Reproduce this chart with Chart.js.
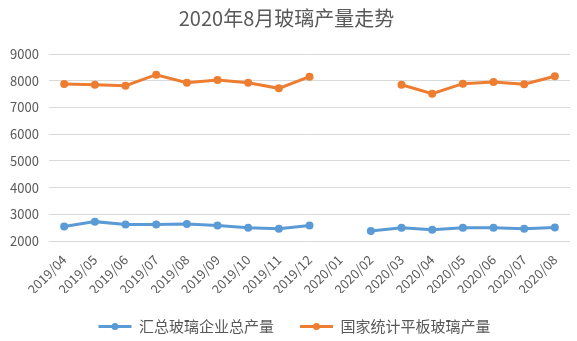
<!DOCTYPE html>
<html>
<head>
<meta charset="utf-8">
<script src="https://cdn.jsdelivr.net/npm/chart.js@4/dist/chart.umd.min.js"></script>
<style>
html,body{margin:0;padding:0;background:#fff;}
#wrap{width:577px;height:341px;position:relative;}
</style>
</head>
<body>
<div id="wrap"><canvas id="c" width="577" height="341"></canvas></div>
<script>
const categories = ["2019/04","2019/05","2019/06","2019/07","2019/08","2019/09","2019/10","2019/11","2019/12","2020/01","2020/02","2020/03","2020/04","2020/05","2020/06","2020/07","2020/08"];
const totalEnterprise = [2540,2725,2615,2615,2640,2580,2495,2455,2580,null,2370,2495,2420,2495,2495,2455,2505];
const nationalFlat = [7875,7850,7815,8225,7925,8025,7925,7715,8150,null,null,7850,7515,7890,7950,7865,8165];
const seriesNames = ["汇总玻璃企业总产量","国家统计平板玻璃产量"];
const titleText = "2020年8月玻璃产量走势";
const yMin = 2000, yMax = 9000, yStep = 1000;

const FONT = "'Noto Sans CJK SC','Noto Sans',sans-serif";
const TXT = "#595959";

const legendTweaks = {
  id: 'legendTweaks',
  afterLayout(chart) {
    const lg = chart.legend;
    if (lg) { lg.left += 8; lg.right += 8; }
  },
  afterDraw(chart) {
    const lg = chart.legend;
    if (!lg || !lg.legendHitBoxes) return;
    const ctx = chart.ctx;
    lg.legendHitBoxes.forEach((hb, i) => {
      const ds = chart.data.datasets[i];
      const bw = lg.options.labels.boxWidth;
      const cx = hb.left + bw / 2;
      const cy = hb.top + hb.height / 2;
      ctx.save();
      ctx.fillStyle = ds.borderColor;
      ctx.beginPath();
      ctx.arc(cx, cy, 3.5, 0, Math.PI * 2);
      ctx.fill();
      ctx.restore();
    });
  }
};

new Chart(document.getElementById('c'), {
  type: 'line',
  data: {
    labels: categories,
    datasets: [
      {label: seriesNames[0], data: totalEnterprise, borderColor: '#5B9BD5', backgroundColor: '#5B9BD5', borderWidth: 3, pointRadius: 4, pointBackgroundColor: '#5B9BD5', pointBorderWidth: 0, spanGaps: false, tension: 0},
      {label: seriesNames[1], data: nationalFlat, borderColor: '#ED7D31', backgroundColor: '#ED7D31', borderWidth: 3, pointRadius: 4, pointBackgroundColor: '#ED7D31', pointBorderWidth: 0, spanGaps: false, tension: 0}
    ]
  },
  plugins: [legendTweaks],
  options: {
    responsive: false,
    animation: false,
    devicePixelRatio: 1,
    layout: {padding: {left: 0, right: 4, top: 4, bottom: 0}},
    plugins: {
      title: {display: true, text: titleText, color: TXT, font: {family: FONT, size: 20, weight: 'normal'}, padding: {top: 2, bottom: 24}},
      legend: {
        position: 'bottom',
        maxHeight: 48,
        labels: {color: TXT, font: {family: FONT, size: 15}, boxWidth: 33, boxHeight: 3, padding: 26, generateLabels(chart) {
          return chart.data.datasets.map((ds, i) => ({text: ds.label, fillStyle: ds.borderColor, strokeStyle: ds.borderColor, lineWidth: 0, datasetIndex: i, fontColor: TXT}));
        }}
      },
      tooltip: {enabled: false}
    },
    scales: {
      x: {
        offset: true,
        grid: {display: false, drawTicks: false},
        border: {display: false},
        afterFit(scale) { scale.height = 52; },
        ticks: {color: TXT, font: {family: FONT, size: 13}, minRotation: 45, maxRotation: 45, autoSkip: false, padding: 11}
      },
      y: {
        min: yMin, max: yMax,
        grid: {color: '#D9D9D9', lineWidth: 1, drawTicks: false},
        border: {display: false},
        ticks: {stepSize: yStep, color: TXT, font: {family: FONT, size: 13}, padding: 10, callback: (v) => String(v)}
      }
    }
  }
});
</script>
</body>
</html>
